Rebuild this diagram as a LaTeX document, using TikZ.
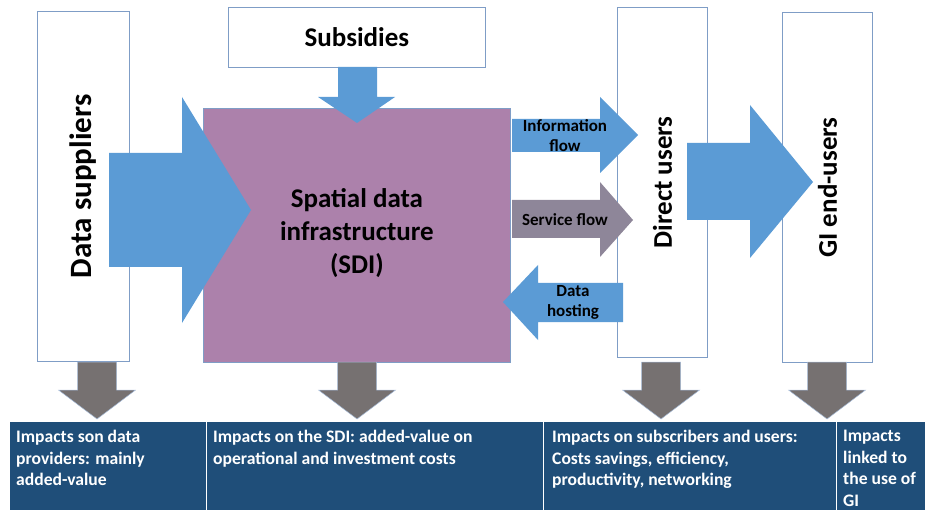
\documentclass[tikz,border=0pt]{standalone}
\usepackage{fontspec}
\setmainfont{Carlito}
\definecolor{flowblue}{HTML}{5B9BD5}
\definecolor{sdipurple}{HTML}{AC81AB}
\definecolor{servicegray}{HTML}{8E8699}
\definecolor{impactgray}{HTML}{767171}
\definecolor{bandblue}{HTML}{1F4E79}
\definecolor{boxline}{HTML}{7F9DC6}
\begin{document}
\begin{tikzpicture}[x=1pt, y=-1pt,
    box/.style={draw=boxline, fill=white, line width=0.8pt, anchor=north west, inner sep=0},
    impact/.style={fill=bandblue, draw=white, line width=0.8pt, anchor=north west, minimum height=89, inner sep=0},
    impacttext/.style={anchor=north west, text=white, align=left, inner sep=0, font=\bfseries\fontsize{17.6}{21.5}\selectfont},
    biglabel/.style={font=\bfseries\fontsize{27}{33}\selectfont},
    flowlabel/.style={align=center, font=\bfseries\fontsize{17}{20}\selectfont}]
    \useasboundingbox (0,0) rectangle (925,510);

    % Kaesten
    \node[box, minimum width=92, minimum height=350] (supp) at (37,11) {};
    \node[box, minimum width=257, minimum height=60] (subs) at (228,7) {};
    \node[box, fill=sdipurple, minimum width=307, minimum height=254] (sdi) at (203,108) {};
    \node[box, minimum width=90, minimum height=350] (direct) at (617,7) {};
    \node[box, minimum width=90, minimum height=350] (gi) at (782,12) {};

    % Pfeile
    \fill[flowblue] (109,153) -- (182,153) -- (182,97) -- (251,210) -- (182,323) -- (182,267) -- (109,267) -- cycle;
    \fill[flowblue] (338,67) -- (377,67) -- (377,97) -- (395,97) -- (357,123) -- (318,97) -- (338,97) -- cycle;
    \fill[flowblue] (512,119) -- (600,119) -- (600,97) -- (638,135) -- (600,173) -- (600,152) -- (512,152) -- cycle;
    \fill[servicegray] (512,200) -- (600,200) -- (600,182) -- (633,220) -- (600,257) -- (600,238) -- (512,238) -- cycle;
    \fill[flowblue] (623,283) -- (538,283) -- (538,265) -- (503,302) -- (538,340) -- (538,322) -- (623,322) -- cycle;
    \fill[flowblue] (687,143) -- (750,143) -- (750,105) -- (813,182) -- (750,258) -- (750,220) -- (687,220) -- cycle;

    % Texte
    \node[rotate=90, font=\bfseries\fontsize{31}{37}\selectfont] (suppt) at (supp.center) {Data suppliers};
    \node[biglabel] (subst) at (subs.center) {Subsidies};
    \node[biglabel, align=center] (sdit) at ([yshift=2]sdi.center) {Spatial data\\infrastructure\\(SDI)};
    \node[biglabel, rotate=90] (directt) at (direct.center) {Direct users};
    \node[biglabel, rotate=90] (git) at (gi.center) {GI end-users};
    \node[flowlabel] (info) at (565,136) {Information\\flow};
    \node[flowlabel] (service) at (565,220) {Service flow};
    \node[flowlabel] (hosting) at (573,302) {Data\\hosting};

    % Auswirkungen
    \foreach \cx in {97,357,661,827}
        \filldraw[impactgray, draw=boxline!70, line width=0.5pt] (\cx-19.5,362) -- (\cx+19.5,362) -- (\cx+19.5,390) -- (\cx+38.5,390) -- (\cx,419) -- (\cx-38.5,390) -- (\cx-19.5,390) -- cycle;

    \node[impact, minimum width=197] (imp1) at (9,421) {};
    \node[impact, minimum width=337] (imp2) at (206,421) {};
    \node[impact, minimum width=293] (imp3) at (543,421) {};
    \node[impact, minimum width=89] (imp4) at (836,421) {};
    \node[impacttext] (imp1t) at ([shift={(7,9)}]imp1.north west) {Impacts son data\\providers: mainly\\added-value};
    \node[impacttext] (imp2t) at ([shift={(7,9)}]imp2.north west) {Impacts on the SDI: added-value on\\operational and investment costs};
    \node[impacttext] (imp3t) at ([shift={(9,9)}]imp3.north west) {Impacts on subscribers and users:\\Costs savings, efficiency,\\productivity, networking};
    \node[impacttext] (imp4t) at ([shift={(7,9)}]imp4.north west) {Impacts\\linked to\\the use of\\GI};

\end{tikzpicture}
\end{document}
